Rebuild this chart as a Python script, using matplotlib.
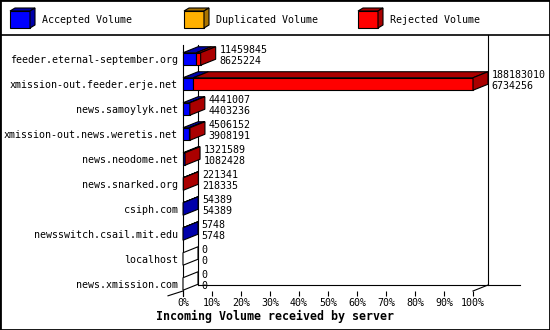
import matplotlib
matplotlib.use('Agg')
import matplotlib.pyplot as plt
from matplotlib.patches import Polygon, Rectangle
from matplotlib.lines import Line2D

servers = ['feeder.eternal-september.org', 'xmission-out.feeder.erje.net',
           'news.samoylyk.net', 'xmission-out.news.weretis.net',
           'news.neodome.net', 'news.snarked.org', 'csiph.com',
           'newsswitch.csail.mit.edu', 'localhost', 'news.xmission.com']
offered = [11459845, 188183010, 4441007, 4506152, 1321589, 221341, 54389, 5748, 0, 0]
accepted = [8625224, 6734256, 4403236, 3908191, 1082428, 218335, 54389, 5748, 0, 0]
duplicated = [0, 0, 0, 0, 0, 0, 0, 0, 0, 0]
rejected = [2834621, 181448754, 37771, 597961, 239161, 3006, 0, 0, 0, 0]
series_names = ['Accepted Volume', 'Duplicated Volume', 'Rejected Volume']
pct_ticks = [0, 10, 20, 30, 40, 50, 60, 70, 80, 90, 100]

front_col = ['#0000ff', '#ffb000', '#ff0000']
side_col = ['#0000aa', '#aa7400', '#aa0000']
font = 'DejaVu Sans Mono'
fs = 7.2
lw = 0.8

W, H = 550, 330
fig = plt.figure(figsize=(5.5, 3.3), dpi=100)

# front plane of the chart in pixels
x0px, x1px, top_px, bot_px = 183, 473, 34, 291
ax = fig.add_axes([x0px / W, 1 - bot_px / H, (x1px - x0px) / W, (bot_px - top_px) / H])
ax.set_xlim(0, 100)
ax.set_ylim(9.28, -1)
for s in ax.spines.values():
    s.set_visible(False)

# 3d depth, in data units (15px right, 6px up)
dx = 15 / 2.9
dy = 6 / 25
h = 0.25
yb = 9.28

# frame lines
kw = dict(color='black', lw=lw, clip_on=False, zorder=1)
ax.plot([0, 0], [-0.56, yb + 0.2], **kw)
ax.plot([dx, dx], [-0.56, yb - dy], **kw)
ax.plot([dx, 116.2], [yb - dy, yb - dy], **kw)
ax.plot([100 + dx, 100 + dx], [-0.96, yb - dy], **kw)
ax.plot([0, -dx], [yb, yb + dy * 0.8], **kw)
ax.plot([100, 100 + dx], [yb, yb - dy], **kw)

scale = max(offered)
for i in range(len(servers)):
    left = 0
    last = None
    for k, v in enumerate([accepted[i], duplicated[i], rejected[i]]):
        w = v / scale * 100
        if w <= 0:
            continue
        ax.add_patch(Rectangle((left, i - h), w, 2 * h, fc=front_col[k], ec='black',
                               lw=lw, zorder=3, clip_on=False))
        ax.add_patch(Polygon([(left, i - h), (left + w, i - h), (left + w + dx, i - h - dy),
                              (left + dx, i - h - dy)], fc=side_col[k], ec='black',
                             lw=lw, zorder=3, clip_on=False))
        left += w
        last = k
    fc = side_col[last] if last is not None else 'white'
    ax.add_patch(Polygon([(left, i - h), (left, i + h), (left + dx, i + h - dy),
                          (left + dx, i - h - dy)], fc=fc, ec='black', lw=lw,
                         zorder=3, clip_on=False))
    tx = left + dx + 1.3
    ax.text(tx, i - 0.36, str(offered[i]), fontsize=fs, family=font, va='center',
            ha='left', clip_on=False, zorder=4)
    ax.text(tx, i + 0.08, str(accepted[i]), fontsize=fs, family=font, va='center',
            ha='left', clip_on=False, zorder=4)

ax.set_yticks(range(len(servers)))
ax.set_yticklabels(servers, fontsize=fs, family=font)
ax.tick_params(axis='y', length=0, pad=3.6)
ax.set_xticks(pct_ticks)
ax.set_xticklabels([f'{p}%' for p in pct_ticks], fontsize=fs, family=font)
ax.tick_params(axis='x', length=3.6, width=lw, pad=1.2)

fig.text(0.5, 1 - 316.5 / H, 'Incoming Volume received by server', ha='center',
         va='center', fontsize=8.4, family=font, fontweight='bold')

# legend strip
lax = fig.add_axes([0, 1 - 35 / H, 1, 35 / H])
lax.set_xlim(0, W)
lax.set_ylim(35, 0)
lax.axis('off')
for k, (name, lx) in enumerate(zip(series_names, [10, 184, 358])):
    lax.add_patch(Rectangle((lx, 11), 20, 17, fc=front_col[k], ec='black', lw=lw))
    lax.add_patch(Polygon([(lx, 11), (lx + 20, 11), (lx + 25, 8), (lx + 5, 8)],
                          fc=side_col[k], ec='black', lw=lw))
    lax.add_patch(Polygon([(lx + 20, 11), (lx + 20, 28), (lx + 25, 25), (lx + 25, 8)],
                          fc=side_col[k], ec='black', lw=lw))
    lax.text(lx + 32, 20, name, fontsize=fs, family=font, va='center', ha='left')

fig.add_artist(Line2D([0, 1], [1 - 35 / H, 1 - 35 / H], transform=fig.transFigure,
                      color='black', lw=1.2))
fig.add_artist(Rectangle((0, 0), 1, 1, transform=fig.transFigure, fill=False,
                         ec='black', lw=2))

fig.savefig('out.png', dpi=100)
